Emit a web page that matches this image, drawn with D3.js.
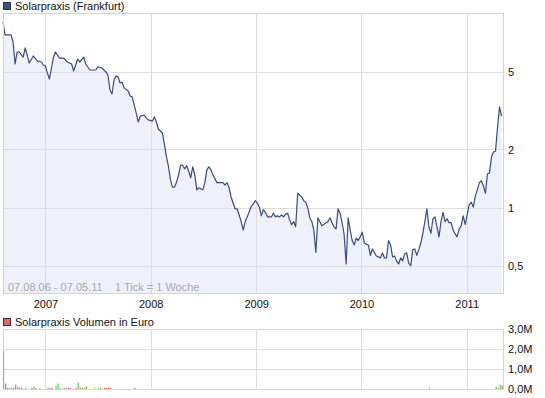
<!DOCTYPE html>
<html lang="de">
<head>
<meta charset="UTF-8">
<title>Solarpraxis (Frankfurt)</title>
<style>
  body { margin: 0; background: #fff; }
  svg { font-family: "Liberation Sans", Arial, sans-serif; font-size: 11px; }
  .grid line { stroke: #dddddd; stroke-width: 1; shape-rendering: crispEdges; }
  .frame { fill: none; stroke: #d4d4d4; shape-rendering: crispEdges; }
  .axis text { fill: #111; font-size: 11px; }
  .axis path, .axis line { display: none; }
</style>
</head>
<body>
<script src="https://d3js.org/d3.v7.min.js"></script>
<script>
// weekly closes, week number counted from 07.08.06
const priceWeeks = [0,1,4,5,6,7,8,10,11,12,13,15,17,19,20,21,22,23,24,25,26,28,30,32,34,35,37,38,40,41,43,46,47,49,51,52,
  53,54,55,56,57,58,59,60,62,63,64,65,66,67,68,70,71,72,74,75,76,77,79,80,81,82,83,84,85,86,87,88,89,90,
  91,92,93,94,95,96,97,99,100,101,102,103,104,106,107,109,110,111,112,113,114,115,116,117,118,119,120,121,
  123,124,125,126,127,128,129,130,131,133,134,135,136,137,138,139,140,141,142,143,144,145,146,148,149,150,
  151,152,153,154,155,156,157,158,160,161,162,163,164,165,166,167,168,169,170,171,172,173,174,175,176,177,
  178,179,180,181,182,183,184,185,186,187,188,189,190,191,192,193,194,195,196,197,198,199,200,201,202,203,
  204,205,206,207,208,209,210,211,212,213,214,215,216,217,218,219,220,221,222,223,224,225,226,227,228,229,
  230,231,232,233,234,235,236,237,238,239,240,241,242,243,244,245,246,247]
const priceValues = [9.06,7.77,7.77,7.15,5.51,6.35,6.35,5.98,6.66,6.13,5.57,6.06,5.71,5.64,5.44,5.38,4.95,4.61,5.25,5.98,6.35,5.91,5.91,5.64,5.51,5.07,5.84,5.64,5.98,5.51,5.13,5.13,5.32,5.25,5.01,4.83,
  4.05,3.86,4.56,4.78,4.72,4.40,4.45,4.15,4.00,3.77,3.73,3.39,3.08,2.77,2.97,3.01,2.90,2.84,2.80,2.94,2.77,2.55,2.43,2.11,1.83,1.63,1.39,1.28,1.28,1.36,1.48,1.66,1.66,1.59,
  1.65,1.55,1.43,1.63,1.48,1.24,1.27,1.24,1.35,1.57,1.63,1.57,1.48,1.35,1.35,1.35,1.31,1.35,1.27,1.14,1.06,0.99,0.99,0.92,0.85,0.77,0.85,0.90,
  1.02,1.05,1.09,1.06,1.01,0.91,0.98,0.95,0.90,0.90,0.94,0.90,0.91,0.90,0.92,0.90,0.93,0.94,0.87,0.82,0.85,0.80,1.19,1.14,1.09,1.07,
  1.00,0.89,0.85,0.77,0.59,0.89,0.85,0.81,0.84,0.85,0.89,0.84,0.80,0.78,0.99,0.94,0.84,0.73,0.515,0.89,0.77,0.68,0.645,0.70,0.68,0.71,
  0.75,0.66,0.65,0.645,0.57,0.615,0.59,0.566,0.56,0.553,0.587,0.553,0.553,0.68,0.645,0.56,0.566,0.534,0.515,0.553,0.534,0.58,0.587,0.52,0.505,0.61,
  0.615,0.57,0.61,0.66,0.74,0.85,0.99,0.80,0.74,0.88,0.90,0.80,0.71,0.85,0.95,0.85,0.88,0.84,0.84,0.77,0.735,0.71,0.78,0.81,0.91,0.82,
  0.93,1.04,1.07,1.01,1.15,1.24,1.35,1.38,1.30,1.19,1.50,1.51,1.83,1.94,1.96,2.60,3.31,2.97]

// weekly turnover in million euro, direction u = up, d = down, n = unchanged
const volWeeks = [0,1,2,3,4,5,6,7,8,9,11,14,15,16,18,22,23,24,26,27,28,30,31,32,33,36,37,38,39,40,41,45,47,48,50,51,52,53,65,211,244,245,246,247]
const volValues = [1.9,0.27,0.06,0.06,0.06,0.06,0.22,0.1,0.06,0.06,0.06,0.06,0.12,0.06,0.06,0.06,0.06,0.06,0.17,0.27,0.06,0.06,0.06,0.06,0.06,0.06,0.32,0.06,0.06,0.06,0.12,0.06,0.06,0.06,0.06,0.06,0.06,0.06,0.06,0.06,0.12,0.08,0.22,0.18]
const volDir = ['n','d','u','u','d','d','d','u','d','d','u','u','u','d','n','d','d','d','u','u','d','d','u','d','d','d','u','d','u','u','d','u','u','d','d','d','d','d','d','u','u','u','u','d']

const years = [2007, 2008, 2009, 2010, 2011]
const priceTicks = [0.5, 1, 2, 5]
const priceTickLabels = ['0,5', '1', '2', '5']
const volTicks = [0, 1, 2, 3]
const volTickLabels = ['0,0M', '1,0M', '2,0M', '3,0M']

const startDate = new Date(2006, 7, 7)
const endDate = new Date(2011, 4, 7)
const weekDate = w => d3.timeDay.offset(startDate, w * 7)

const width = 545
const height = 398
const left = 3
const right = 503

const svg = d3.select('body').append('svg')
  .attr('width', width)
  .attr('height', height)

const x = d3.scaleTime().domain([startDate, endDate]).range([left, right])
const y = d3.scaleLog().domain([0.365, 10.08]).range([293, 13])
const yv = d3.scaleLinear().domain([0, 3]).range([389, 329])

const price = priceWeeks.map((w, i) => ({date: weekDate(w), value: priceValues[i]}))
const volume = volWeeks.map((w, i) => ({date: weekDate(w), value: volValues[i], dir: volDir[i]}))

function legend (ty, color, label) {
  svg.append('rect')
    .attr('x', 3.5).attr('y', ty - 7.5)
    .attr('width', 7).attr('height', 7)
    .attr('fill', color).attr('stroke', '#333')
  svg.append('text')
    .attr('x', 15).attr('y', ty)
    .attr('fill', '#111')
    .text(label)
}

function yearGrid (g, y0, y1) {
  g.append('g').attr('class', 'grid')
    .selectAll('line').data(years).join('line')
    .attr('x1', d => Math.round(x(new Date(d, 0, 1))) + 0.5)
    .attr('x2', d => Math.round(x(new Date(d, 0, 1))) + 0.5)
    .attr('y1', y0).attr('y2', y1)
}

// price panel
legend(10, '#3d5080', 'Solarpraxis (Frankfurt)')

const area = d3.area()
  .x(d => x(d.date))
  .y0(293)
  .y1(d => y(d.value))
svg.append('path')
  .datum(price)
  .attr('fill', '#eef1f9')
  .attr('d', area)

const priceGrid = svg.append('g')
priceGrid.append('g').attr('class', 'grid')
  .selectAll('line').data(priceTicks).join('line')
  .attr('x1', left).attr('x2', right)
  .attr('y1', d => Math.round(y(d)) + 0.5)
  .attr('y2', d => Math.round(y(d)) + 0.5)
yearGrid(priceGrid, 13, 293)

svg.append('path')
  .datum(price)
  .attr('fill', 'none')
  .attr('stroke', '#3a4c7c')
  .attr('stroke-width', 1.2)
  .attr('stroke-linejoin', 'round')
  .attr('d', d3.line().x(d => x(d.date)).y(d => y(d.value)))

svg.append('rect').attr('class', 'frame')
  .attr('x', left + 0.5).attr('y', 13.5)
  .attr('width', right - left).attr('height', 280)

svg.append('g')
  .attr('class', 'axis')
  .attr('transform', `translate(${right + 2},0)`)
  .call(d3.axisRight(y).tickValues(priceTicks).tickSize(0)
    .tickFormat((d, i) => priceTickLabels[i]))

svg.append('g')
  .attr('class', 'axis')
  .attr('transform', 'translate(0,297)')
  .call(d3.axisBottom(x).tickValues(years.map(d => new Date(d, 0, 1))).tickSize(0)
    .tickFormat(d3.timeFormat('%Y')))

svg.append('text').attr('x', 8).attr('y', 291).attr('fill', '#a8a8a8').text('07.08.06 - 07.05.11')
svg.append('text').attr('x', 115).attr('y', 291).attr('fill', '#a8a8a8').text('1 Tick = 1 Woche')

// volume panel
legend(326, '#e06666', 'Solarpraxis Volumen in Euro')

const volGrid = svg.append('g')
volGrid.append('g').attr('class', 'grid')
  .selectAll('line').data(volTicks).join('line')
  .attr('x1', left).attr('x2', right)
  .attr('y1', d => Math.round(yv(d)) + 0.5)
  .attr('y2', d => Math.round(yv(d)) + 0.5)
yearGrid(volGrid, 329, 389)

svg.append('rect').attr('class', 'frame')
  .attr('x', left + 0.5).attr('y', 329.5)
  .attr('width', right - left).attr('height', 60)

const barColor = {u: '#5fd35f', d: '#e06666', n: '#a8a8a8'}
svg.append('g')
  .selectAll('rect').data(volume).join('rect')
  .attr('x', d => x(d.date))
  .attr('width', 1.2)
  .attr('y', d => yv(d.value))
  .attr('height', d => yv(0) - yv(d.value))
  .attr('fill', d => barColor[d.dir])

svg.append('g')
  .attr('class', 'axis')
  .attr('transform', `translate(${right + 2},0)`)
  .call(d3.axisRight(yv).tickValues(volTicks).tickSize(0)
    .tickFormat((d, i) => volTickLabels[i]))
</script>
</body>
</html>
